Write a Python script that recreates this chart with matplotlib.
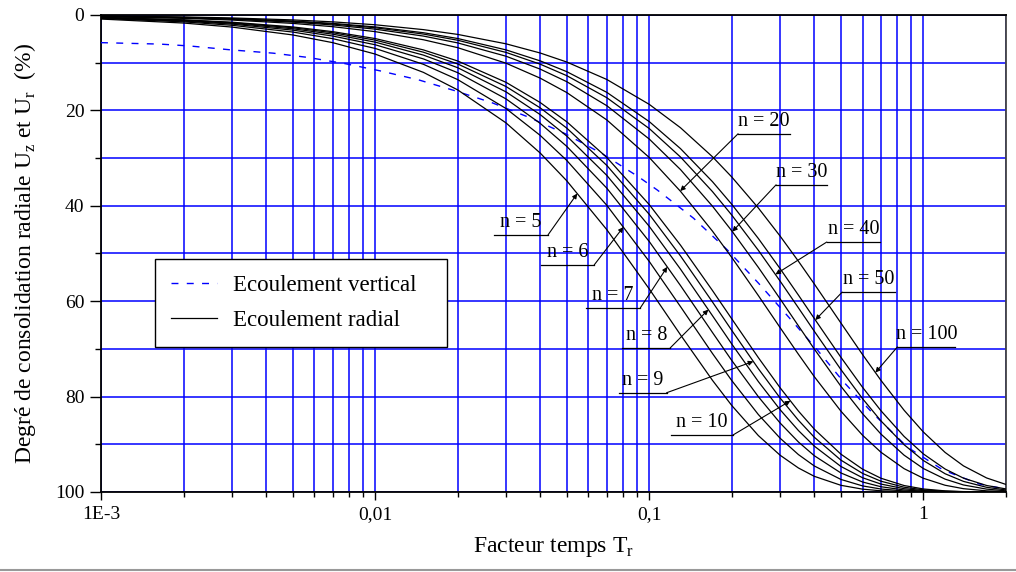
import numpy as np
import matplotlib
matplotlib.use("Agg")
import matplotlib.pyplot as plt
from matplotlib.ticker import FixedLocator, FixedFormatter, NullFormatter

plt.rcParams["font.family"] = ["Liberation Serif", "DejaVu Serif"]
plt.rcParams["mathtext.fontset"] = "custom"
plt.rcParams["mathtext.rm"] = "Liberation Serif"

# --- data ---
# time factor grid for the radial curves
T_r = [0.001, 0.002, 0.003, 0.005, 0.007, 0.01, 0.015, 0.02, 0.03, 0.04, 0.05, 0.07,
       0.1, 0.13, 0.17, 0.2, 0.25, 0.3, 0.35, 0.4, 0.5, 0.6, 0.7, 0.85, 1.0, 1.2, 1.4,
       1.7, 2.0]

U_n5 = [0.85, 1.69, 2.53, 4.18, 5.80, 8.19, 12.03, 15.70, 22.61, 28.94, 34.76, 45.01,
        57.44, 67.06, 76.59, 81.88, 88.18, 92.29, 94.97, 96.72, 98.60, 99.41, 99.75,
        99.93, 99.98, 100.0, 100.0, 100.0, 100.0]
U_n6 = [0.72, 1.44, 2.16, 3.57, 4.96, 7.01, 10.34, 13.54, 19.60, 25.24, 30.49, 39.90,
        51.68, 61.15, 70.96, 76.65, 83.77, 88.72, 92.16, 94.55, 97.37, 98.73, 99.38,
        99.79, 99.93, 99.98, 100.0, 100.0, 100.0]
U_n7 = [0.64, 1.28, 1.91, 3.17, 4.41, 6.24, 9.21, 12.09, 17.58, 22.72, 27.54, 36.31,
        47.50, 56.73, 66.56, 72.44, 80.03, 85.53, 89.52, 92.40, 96.01, 97.91, 98.90,
        99.58, 99.84, 99.96, 99.99, 100.0, 100.0]
U_n8 = [0.58, 1.16, 1.74, 2.89, 4.02, 5.69, 8.41, 11.05, 16.11, 20.88, 25.38, 33.63,
        44.32, 53.29, 63.04, 68.99, 76.86, 82.74, 87.12, 90.39, 94.65, 97.02, 98.34,
        99.31, 99.71, 99.91, 99.97, 100.0, 100.0]
U_n9 = [0.54, 1.08, 1.61, 2.67, 3.72, 5.27, 7.80, 10.26, 14.99, 19.47, 23.71, 31.54,
        41.80, 50.52, 60.16, 66.13, 74.16, 80.29, 84.96, 88.53, 93.32, 96.11, 97.74,
        99.00, 99.55, 99.85, 99.95, 99.99, 100.0]
U_n10 = [0.51, 1.01, 1.51, 2.50, 3.49, 4.94, 7.32, 9.64, 14.11, 18.35, 22.39, 29.87,
         39.76, 48.26, 57.76, 63.72, 71.84, 78.14, 83.04, 86.83, 92.07, 95.22, 97.12,
         98.65, 99.37, 99.77, 99.92, 99.98, 100.0]
U_n20 = [0.35, 0.71, 1.06, 1.76, 2.45, 3.49, 5.19, 6.85, 10.10, 13.24, 16.26, 22.00,
         29.88, 36.97, 45.31, 50.84, 58.83, 65.53, 71.13, 75.83, 83.05, 88.12, 91.67,
         95.11, 97.13, 98.59, 99.31, 99.76, 99.92]
U_n30 = [0.30, 0.60, 0.90, 1.50, 2.09, 2.97, 4.42, 5.85, 8.64, 11.35, 13.98, 19.02,
         26.01, 32.41, 40.08, 45.26, 52.92, 59.50, 65.17, 70.04, 77.83, 83.60, 87.86,
         92.28, 95.09, 97.31, 98.53, 99.40, 99.76]
U_n40 = [0.27, 0.54, 0.81, 1.35, 1.89, 2.68, 4.00, 5.29, 7.84, 10.31, 12.72, 17.34,
         23.81, 29.78, 37.02, 41.96, 49.34, 55.78, 61.40, 66.31, 74.33, 80.45, 85.10,
         90.09, 93.41, 96.18, 97.78, 99.02, 99.57]
U_n50 = [0.25, 0.51, 0.76, 1.26, 1.76, 2.50, 3.72, 4.93, 7.31, 9.62, 11.88, 16.22,
         22.35, 28.02, 34.94, 39.70, 46.86, 53.17, 58.73, 63.64, 71.76, 78.07, 82.97,
         88.35, 92.03, 95.19, 97.10, 98.64, 99.36]
U_n100 = [0.21, 0.41, 0.62, 1.03, 1.44, 2.05, 3.07, 4.07, 6.04, 7.97, 9.86, 13.52,
          18.74, 23.64, 29.72, 33.97, 40.47, 46.34, 51.63, 56.40, 64.57, 71.21, 76.60,
          82.86, 87.44, 91.71, 94.53, 97.06, 98.42]

radial = {5: U_n5, 6: U_n6, 7: U_n7, 8: U_n8, 9: U_n9, 10: U_n10,
          20: U_n20, 30: U_n30, 40: U_n40, 50: U_n50, 100: U_n100}

# vertical flow (dashed)
T_v = [0.001, 0.00164, 0.00211, 0.00296, 0.00424, 0.00569, 0.00777, 0.0104, 0.0144,
       0.0196, 0.0267, 0.0362, 0.0494, 0.0674, 0.0912, 0.107, 0.145, 0.193, 0.250,
       0.322, 0.410, 0.511, 0.651, 0.874, 1.18, 1.59, 2.0]
U_v = [5.8, 6.1, 6.5, 7.3, 8.0, 8.9, 10.2, 11.7, 13.6, 15.9, 18.4, 21.4, 24.9, 29.1,
       33.9, 36.7, 42.6, 49.3, 56.2, 63.3, 70.2, 76.9, 83.4, 90.6, 95.4, 98.3, 99.4]

x_major = [0.001, 0.01, 0.1, 1]
x_major_labels = ["1E-3", "0,01", "0,1", "1"]
x_minor = [k * 10.0 ** e for e in (-3, -2, -1) for k in range(2, 10)] + [2]

# label layout: text, n, T at arrow tip, underline x0, x1, y (axes fraction), leader side
curve_labels = [
    ("n = 5", 5, 0.0546, 0.434, 0.494, 0.539, "right"),
    ("n = 6", 6, 0.0804, 0.486, 0.545, 0.476, "right"),
    ("n = 7", 7, 0.1163, 0.536, 0.596, 0.386, "right"),
    ("n = 8", 8, 0.1642, 0.576, 0.629, 0.302, "right"),
    ("n = 9", 9, 0.2396, 0.572, 0.625, 0.208, "right"),
    ("n = 10", 10, 0.3271, 0.630, 0.698, 0.119, "right"),
    ("n = 20", 20, 0.1297, 0.704, 0.761, 0.751, "left"),
    ("n = 30", 30, 0.2009, 0.746, 0.802, 0.644, "left"),
    ("n = 40", 40, 0.2884, 0.802, 0.861, 0.524, "left"),
    ("n = 50", 50, 0.4034, 0.819, 0.877, 0.419, "left"),
    ("n = 100", 100, 0.6681, 0.880, 0.944, 0.304, "left"),
]

fig = plt.figure(figsize=(10.16, 5.72), dpi=100)
ax = fig.add_axes([0.0994, 0.1399, 0.8907, 0.8339])

blue = "#0000ff"

ax.plot(T_v, U_v, color=blue, lw=1.0, ls=(0, (5, 6)), label="Ecoulement vertical", zorder=3)
first = True
for n, U in radial.items():
    ax.plot(T_r, U, color="black", lw=0.9, zorder=4,
            label="Ecoulement radial" if first else None)
    first = False

ax.set_xscale("log")
ax.set_xlim(0.001, 2)
ax.set_ylim(100, 0)

ax.xaxis.set_major_locator(FixedLocator(x_major))
ax.xaxis.set_major_formatter(FixedFormatter(x_major_labels))
ax.xaxis.set_minor_locator(FixedLocator(x_minor))
ax.xaxis.set_minor_formatter(NullFormatter())
ax.yaxis.set_major_locator(FixedLocator([0, 20, 40, 60, 80, 100]))
ax.yaxis.set_minor_locator(FixedLocator([10, 30, 50, 70, 90]))

ax.grid(True, which="both", color=blue, lw=1.1)
ax.set_axisbelow(True)

ax.tick_params(axis="x", which="major", length=6, width=1, direction="out", labelsize=14, pad=4)
ax.tick_params(axis="x", which="minor", length=3.5, width=1, direction="out")
ax.tick_params(axis="y", which="major", length=8, width=1, direction="out", labelsize=14, pad=4)
ax.tick_params(axis="y", which="minor", length=4, width=1, direction="out")

for side in ["left", "bottom", "top"]:
    ax.spines[side].set_linewidth(1.3)
    ax.spines[side].set_color("black")
ax.spines["right"].set_linewidth(1.3)
ax.spines["right"].set_color("#444444")

ax.set_xlabel(r"Facteur temps T$_\mathrm{r}$", fontsize=17)
ax.set_ylabel(r"Degré de consolidation radiale U$_\mathrm{z}$ et U$_\mathrm{r}$  (%)", fontsize=17)
ax.xaxis.set_label_coords(0.5, -0.09)
ax.yaxis.set_label_coords(-0.07, 0.5)

# curve labels with leader arrows
logT = np.log10(T_r)
for text, n, tip_T, x0, x1, y, side in curve_labels:
    tip_U = np.interp(np.log10(tip_T), logT, radial[n])
    corner = x1 if side == "right" else x0
    ax.annotate("", xy=(tip_T, tip_U), xycoords="data",
                xytext=(corner, y), textcoords="axes fraction",
                arrowprops=dict(arrowstyle="-|>", color="black", lw=0.8,
                                mutation_scale=7, shrinkA=0, shrinkB=0),
                zorder=6)
    ax.plot([x0, x1], [y, y], transform=ax.transAxes, color="black", lw=0.9, zorder=6)
    ax.text((x0 + x1) / 2, y + 0.006, text, transform=ax.transAxes,
            ha="center", va="bottom", fontsize=14.5, zorder=6)

leg = ax.legend(loc="center", bbox_to_anchor=(0.0597, 0.291, 0.3226, 0.210),
                mode="expand", fontsize=16.5, frameon=True, fancybox=False,
                framealpha=1, edgecolor="black", borderpad=0.7, labelspacing=0.6,
                handlelength=2.0, handletextpad=0.7, borderaxespad=0)
leg.get_frame().set_linewidth(1.0)
leg.set_zorder(7)

fig.add_artist(plt.Line2D([0, 1], [0.003, 0.003], color="#999999", lw=1.5,
                          transform=fig.transFigure))

fig.savefig("out.png", dpi=100)
